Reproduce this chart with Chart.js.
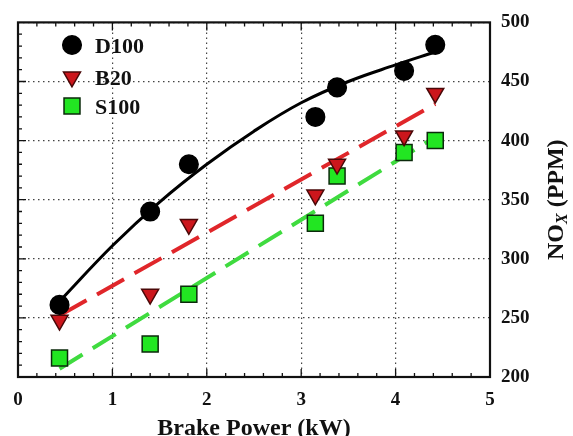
<!DOCTYPE html>
<html>
<head>
<meta charset="utf-8">
<script src="https://cdn.jsdelivr.net/npm/chart.js@4/dist/chart.umd.min.js"></script>
<style>
  html, body { margin: 0; padding: 0; background: #ffffff; }
  #wrap { width: 573px; height: 436px; }
</style>
</head>
<body>
<div id="wrap"><canvas id="c" width="573" height="436"></canvas></div>
<script>
// Measured NOx emissions versus brake power for three fuels
const brakePower = [0.44, 1.40, 1.81, 3.15, 3.38, 4.09, 4.42];
const noxD100 = [261, 340, 380, 420, 445, 459, 481];
const noxB20  = [248, 270, 329, 354, 380, 404, 440];
const noxS100 = [216, 228, 270, 330, 370, 390, 400];

// Trend lines drawn through each fuel's points
const trendD100X = [0.44, 1.0, 1.5, 2.0, 2.5, 3.0, 3.5, 4.0, 4.42];
const trendD100Y = [264, 311, 348, 380, 408, 432, 450, 464, 475];
const trendB20X  = [0.44, 4.42];
const trendB20Y  = [252, 431];
const trendS100X = [0.44, 4.42];
const trendS100Y = [207, 403];

// Axis ticks
const xTickValues = [0, 1, 2, 3, 4, 5];
const yTickValues = [200, 250, 300, 350, 400, 450, 500];
const seriesNames = ['D100', 'B20', 'S100'];

const FONT = "'Liberation Serif', 'Times New Roman', serif";

const pts = (xs, ys) => xs.map((x, i) => ({ x: x, y: ys[i] }));

const marker = {
  D100: { pointStyle: 'circle', radius: 9.3, rotation: 0, bg: '#000000', border: '#000000' },
  B20:  { pointStyle: 'triangle', radius: 9.8, rotation: 180, bg: '#cc161c', border: '#4a0808' },
  S100: { pointStyle: 'rect', radius: 11.3, rotation: 0, bg: '#22e622', border: '#0b2a0b' }
};

function markerSet(label, ys) {
  const m = marker[label];
  return {
    label: label,
    data: pts(brakePower, ys),
    showLine: false,
    pointStyle: m.pointStyle,
    pointRadius: m.radius,
    pointRotation: m.rotation,
    pointBackgroundColor: m.bg,
    pointBorderColor: m.border,
    pointBorderWidth: 1.5,
    order: 0
  };
}

// Frame, inside tick marks, legend and axis titles
const decorations = {
  id: 'decorations',
  afterDraw(chart) {
    const ctx = chart.ctx;
    const a = chart.chartArea;
    const xs = chart.scales.x, ys = chart.scales.y;
    ctx.save();

    // inside tick marks
    ctx.strokeStyle = '#111';
    ctx.lineWidth = 1.3;
    ctx.beginPath();
    for (let i = 1; i < 25; i++) {
      const v = i * 0.2;
      const px = xs.getPixelForValue(v);
      const len = (i % 5 === 0) ? 8 : 4;
      ctx.moveTo(px, a.bottom); ctx.lineTo(px, a.bottom - len);
      ctx.moveTo(px, a.top); ctx.lineTo(px, a.top + len);
    }
    for (let v = 210; v < 500; v += 10) {
      const py = ys.getPixelForValue(v);
      const len = (v % 50 === 0) ? 8 : 4;
      ctx.moveTo(a.left, py); ctx.lineTo(a.left + len, py);
    }
    ctx.stroke();

    // frame
    ctx.lineWidth = 2.2;
    ctx.strokeStyle = '#111';
    ctx.strokeRect(a.left, a.top, a.right - a.left, a.bottom - a.top);

    // legend
    const rows = [45, 77, 106];
    seriesNames.forEach((name, i) => {
      const m = marker[name];
      ctx.fillStyle = m.bg;
      ctx.strokeStyle = m.border;
      ctx.lineWidth = 1.5;
      Chart.helpers.drawPoint(ctx, {
        pointStyle: m.pointStyle,
        radius: m.radius,
        rotation: m.rotation,
        borderWidth: 1.5
      }, 72, rows[i]);
      ctx.fillStyle = '#111';
      ctx.font = 'bold 22px ' + FONT;
      ctx.textAlign = 'left';
      ctx.textBaseline = 'middle';
      ctx.fillText(name, 95, rows[i] + 2);
    });

    // x axis title
    ctx.fillStyle = '#111';
    ctx.font = 'bold 24px ' + FONT;
    ctx.textAlign = 'center';
    ctx.textBaseline = 'alphabetic';
    ctx.fillText('Brake Power (kW)', (a.left + a.right) / 2, 435);

    // y axis title with subscript
    ctx.translate(563, (a.top + a.bottom) / 2);
    ctx.rotate(-Math.PI / 2);
    const mainFont = 'bold 24px ' + FONT;
    const subFont = 'italic bold 16px ' + FONT;
    ctx.font = mainFont;
    const wNO = ctx.measureText('NO').width;
    const wRest = ctx.measureText(' (PPM)').width;
    ctx.font = subFont;
    const wX = ctx.measureText('X').width;
    const total = wNO + wX + wRest;
    const x0 = -total / 2;
    ctx.textAlign = 'left';
    ctx.font = mainFont;
    ctx.fillText('NO', x0, 0);
    ctx.font = subFont;
    ctx.fillText('X', x0 + wNO, 4);
    ctx.font = mainFont;
    ctx.fillText(' (PPM)', x0 + wNO + wX, 0);

    ctx.restore();
  }
};

new Chart(document.getElementById('c'), {
  type: 'scatter',
  data: {
    datasets: [
      markerSet('D100', noxD100),
      markerSet('B20', noxB20),
      markerSet('S100', noxS100),
      {
        label: 'D100 trend',
        data: pts(trendD100X, trendD100Y),
        showLine: true,
        borderColor: '#000000',
        borderWidth: 3,
        pointRadius: 0,
        tension: 0.4,
        order: 1
      },
      {
        label: 'B20 trend',
        data: pts(trendB20X, trendB20Y),
        showLine: true,
        borderColor: '#e0262a',
        borderWidth: 4,
        borderDash: [31, 12],
        pointRadius: 0,
        order: 1
      },
      {
        label: 'S100 trend',
        data: pts(trendS100X, trendS100Y),
        showLine: true,
        borderColor: '#3fdb3f',
        borderWidth: 4,
        borderDash: [27, 12],
        pointRadius: 0,
        order: 1
      }
    ]
  },
  options: {
    responsive: false,
    animation: false,
    events: [],
    layout: { padding: { left: 18, top: 19, right: 0, bottom: 0 } },
    plugins: { legend: { display: false }, tooltip: { enabled: false } },
    scales: {
      x: {
        type: 'linear',
        min: xTickValues[0],
        max: xTickValues[xTickValues.length - 1],
        afterBuildTicks(scale) { scale.ticks = xTickValues.map(v => ({ value: v })); },
        afterFit(scale) { scale.height = 59; },
        grid: { color: '#444', lineWidth: 1.2, drawTicks: false },
        border: { display: false, dash: [1.5, 3.5] },
        ticks: {
          padding: 12,
          color: '#111',
          font: { family: FONT, size: 19, weight: 'bold' }
        }
      },
      y: {
        type: 'linear',
        position: 'right',
        min: yTickValues[0],
        max: yTickValues[yTickValues.length - 1],
        afterBuildTicks(scale) { scale.ticks = yTickValues.map(v => ({ value: v })); },
        afterFit(scale) { scale.width = 83; },
        grid: { color: '#444', lineWidth: 1.2, drawTicks: false },
        border: { display: false, dash: [1.5, 3.5] },
        ticks: {
          padding: 11,
          color: '#111',
          font: { family: FONT, size: 19, weight: 'bold' }
        }
      }
    }
  },
  plugins: [decorations]
});
</script>
</body>
</html>
